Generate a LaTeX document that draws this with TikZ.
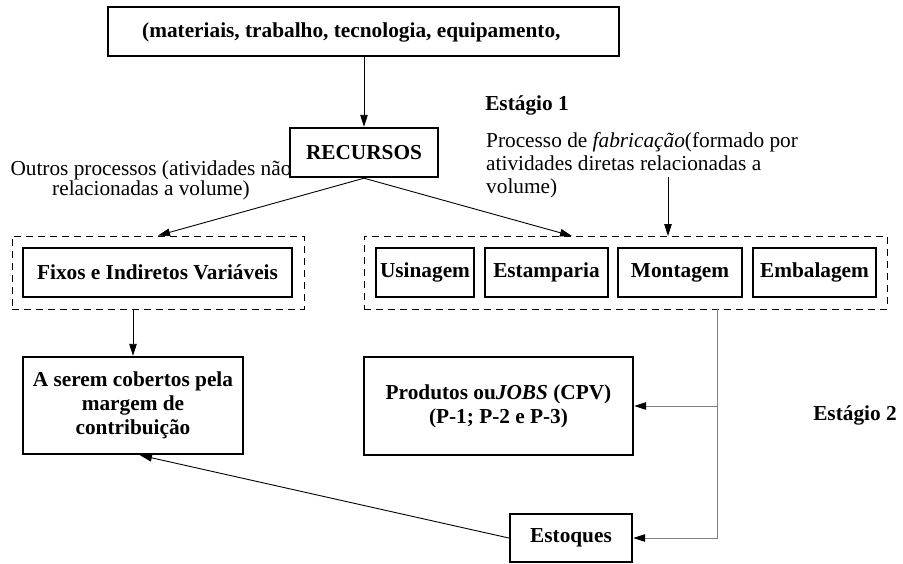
\documentclass[tikz,border=0pt]{standalone}
\usepackage{fontspec}
\setmainfont{Liberation Serif}
\usetikzlibrary{arrows.meta,calc}
\begin{document}
\begin{tikzpicture}[x=1pt,y=-1pt,
  every node/.style={inner sep=0pt,font=\fontsize{21.3}{24}\selectfont},
  box/.style={draw,line width=2.4pt,font=\fontsize{21.3}{24}\selectfont\bfseries,align=center},
  group/.style={draw,line width=0.9pt,dash pattern=on 7pt off 5pt},
  link/.style={line width=0.9pt,-{Triangle[length=12pt,width=7.5pt,color=black]}},
  greylink/.style={link,draw=black!50},
  stage/.style={font=\fontsize{21.3}{24}\selectfont\bfseries}]
\useasboundingbox (0,0) rectangle (903,563);

% resources and their source
\node[box,minimum width=511pt,minimum height=49pt] (top) at (363.5,31.5) {};
\node[anchor=west,font=\fontsize{21.3}{24}\selectfont\bfseries] (toptext) at (142,32) {(materiais, trabalho, tecnologia, equipamento,};
\node[box,minimum width=148pt,minimum height=49pt] (rec) at (364,152.5) {RECURSOS};

% stage labels and notes
\node[stage] (st1) at (527,105) {Estágio 1};
\node[stage] (st2) at (855,415) {Estágio 2};
\node[align=center,font=\fontsize{21.3}{20}\selectfont] (outros) at (151,180) {Outros processos (atividades não\\relacionadas a volume)};
\node[align=left,anchor=west,font=\fontsize{21.3}{23}\selectfont] (proc) at (486,165.5) {Processo de \textit{fabricação}(formado por\\atividades diretas relacionadas a\\volume)};

% process groups
\node[group,minimum width=292pt,minimum height=73pt] (ldash) at (158,272.5) {};
\node[box,minimum width=269pt,minimum height=49pt] (fixos) at (157.5,272.5) {Fixos e Indiretos Variáveis};
\node[group,minimum width=523pt,minimum height=73pt] (rdash) at (625.5,272.5) {};
\node[box,minimum width=98pt,minimum height=49pt] (usin) at (425,272.5) {Usinagem};
\node[box,minimum width=123pt,minimum height=49pt] (estamp) at (546.5,272.5) {Estamparia};
\node[box,minimum width=124pt,minimum height=49pt] (mont) at (680,272.5) {Montagem};
\node[box,minimum width=123pt,minimum height=49pt] (emb) at (814.5,272.5) {Embalagem};

% destinations
\node[box,minimum width=220pt,minimum height=97pt] (aserem) at (133,405.5) {A serem cobertos pela\\margem de\\contribuição};
\node[box,minimum width=269pt,minimum height=98pt] (prod) at (498.5,406) {Produtos ou\textit{JOBS} (CPV)\\(P-1; P-2 e P-3)};
\node[box,minimum width=122pt,minimum height=48pt] (est) at (571,538) {Estoques};

% connector end points
\coordinate (rin) at (572,236);
\coordinate (pfrom) at (668,177);
\coordinate (pto) at (668,236);
\coordinate (rdrop) at (717,309);

% connectors
\draw[link] (rec.north |- top.south) -- (rec.north);
\draw[link] (rec.south) -- (ldash.north);
\draw[link] (rec.south) -- (rin);
\draw[link] (pfrom) -- (pto);
\draw[link] (aserem.north |- ldash.south) -- (aserem.north);
\draw[greylink] (rdrop) |- (est.east);
\draw[greylink] (rdrop |- prod.east) -- (prod.east);
\draw[link] (est.west) -- ($(aserem.south)+(7,0)$);
\end{tikzpicture}
\end{document}
